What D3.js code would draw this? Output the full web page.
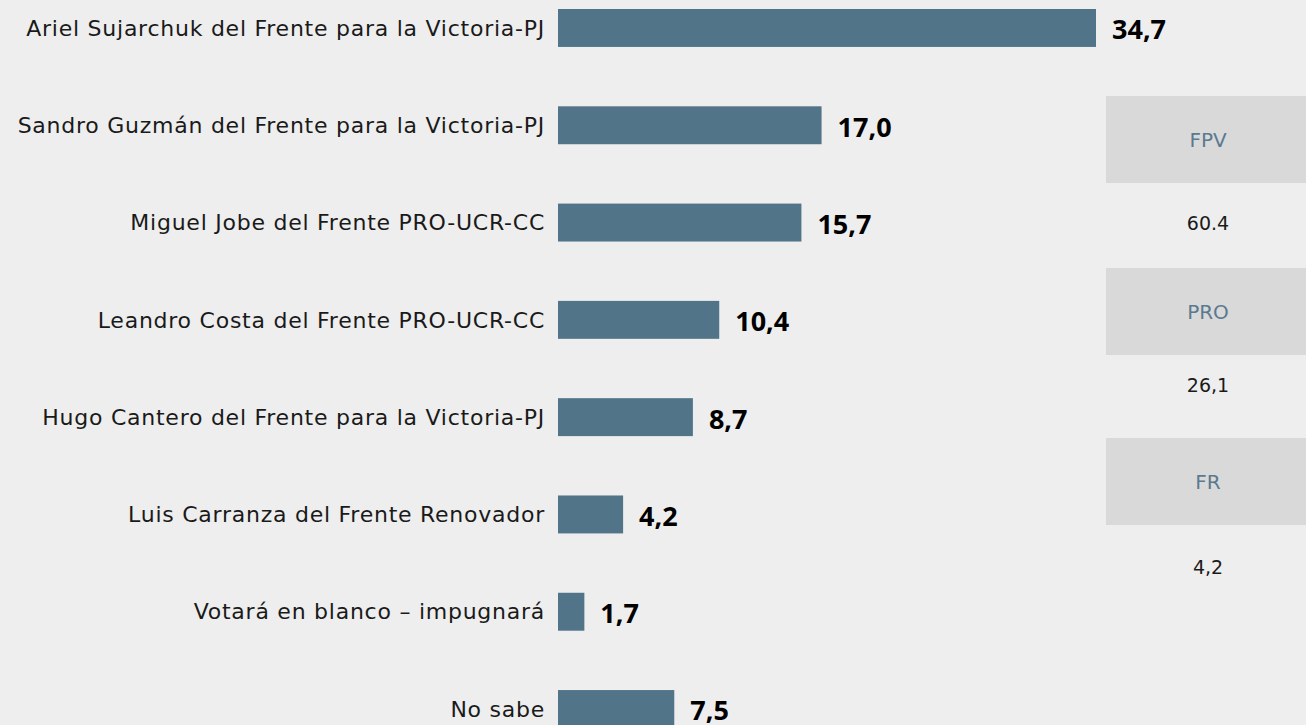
<!DOCTYPE html>
<html>
<head>
<meta charset="utf-8">
<style>
  html, body { margin: 0; padding: 0; background: #eeeeee; }
  svg { display: block; }
  .cat { font-family: "DejaVu Sans", "Noto Sans", sans-serif; font-size: 22px; letter-spacing: 0.75px; fill: #1a1a1a; }
  .val { font-family: "Open Sans", "Liberation Sans", sans-serif; font-size: 27px; font-weight: bold; fill: #000; }
  .party { font-family: "DejaVu Sans", "Noto Sans", sans-serif; font-size: 20px; fill: #5b7a90; }
  .total { font-family: "DejaVu Sans", "Noto Sans", sans-serif; font-size: 19px; fill: #1a1a1a; }
</style>
</head>
<body>
<div id="chart"></div>
<script src="https://cdn.jsdelivr.net/npm/d3@7"></script>
<script>
const width = 1306;
const height = 725;

// candidates and their values (%)
const categories = [
  "Ariel Sujarchuk del Frente para la Victoria-PJ",
  "Sandro Guzmán del Frente para la Victoria-PJ",
  "Miguel Jobe del Frente PRO-UCR-CC",
  "Leandro Costa del Frente PRO-UCR-CC",
  "Hugo Cantero del Frente para la Victoria-PJ",
  "Luis Carranza del Frente Renovador",
  "Votará en blanco – impugnará",
  "No sabe"
];
const values = [34.7, 17.0, 15.7, 10.4, 8.7, 4.2, 1.7, 7.5];

// party totals shown on the right
const parties = ["FPV", "PRO", "FR"];
const partyTotals = ["60.4", "26,1", "4,2"];

const fmt = v => v.toFixed(1).replace(".", ",");

const svg = d3.select("#chart")
  .append("svg")
  .attr("width", width)
  .attr("height", height);

svg.append("rect")
  .attr("width", width)
  .attr("height", height)
  .attr("fill", "#eeeeee");

const x = d3.scaleLinear()
  .domain([0, 34.7])
  .range([558, 1096]);

const y = d3.scaleBand()
  .domain(categories)
  .range([9, 728])
  .paddingInner(0.61)
  .paddingOuter(0);

const rows = svg.append("g")
  .selectAll("g")
  .data(categories)
  .join("g");

rows.append("rect")
  .attr("x", x(0))
  .attr("y", d => y(d))
  .attr("width", (d, i) => x(values[i]) - x(0))
  .attr("height", y.bandwidth())
  .attr("fill", "#527489");

rows.append("text")
  .attr("class", "cat")
  .attr("x", 545)
  .attr("y", d => y(d) + y.bandwidth() / 2)
  .attr("dy", "0.35em")
  .attr("text-anchor", "end")
  .text(d => d);

rows.append("text")
  .attr("class", "val")
  .attr("x", (d, i) => x(values[i]) + 16)
  .attr("y", d => y(d) + y.bandwidth() / 2 + 2)
  .attr("dy", "0.35em")
  .text((d, i) => fmt(values[i]));

// right-hand party boxes
const boxY = d3.scaleOrdinal()
  .domain(parties)
  .range([96, 268, 438]);
const totalY = d3.scaleOrdinal()
  .domain(parties)
  .range([223, 385, 567]);

const side = svg.append("g")
  .selectAll("g")
  .data(parties)
  .join("g");

side.append("rect")
  .attr("x", 1106)
  .attr("y", d => boxY(d))
  .attr("width", 200)
  .attr("height", 87)
  .attr("fill", "#d9d9d9");

side.append("text")
  .attr("class", "party")
  .attr("x", 1208)
  .attr("y", d => boxY(d) + 44)
  .attr("dy", "0.35em")
  .attr("text-anchor", "middle")
  .text(d => d);

side.append("text")
  .attr("class", "total")
  .attr("x", 1208)
  .attr("y", d => totalY(d))
  .attr("dy", "0.35em")
  .attr("text-anchor", "middle")
  .text((d, i) => partyTotals[i]);
</script>
</body>
</html>
